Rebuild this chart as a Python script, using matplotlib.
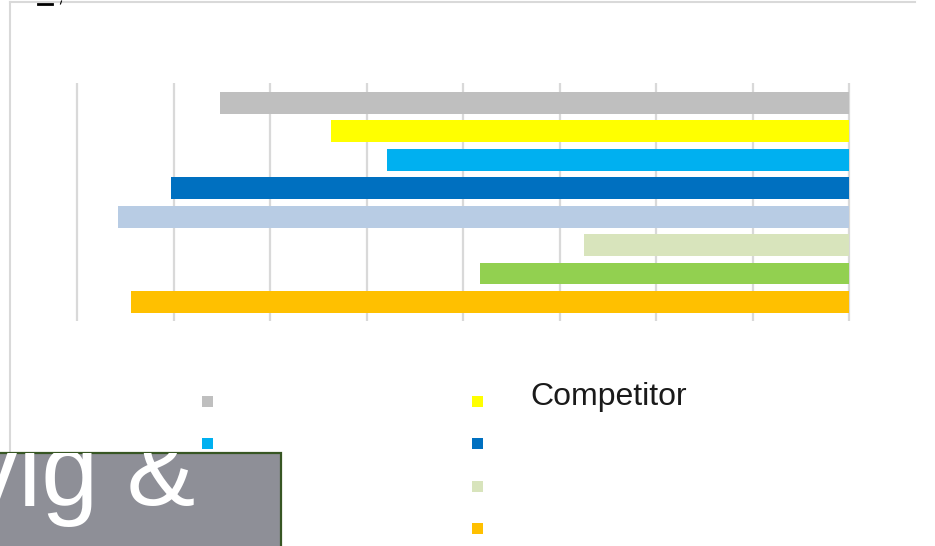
import matplotlib.pyplot as plt
from matplotlib.lines import Line2D
from matplotlib.patches import Rectangle

plt.rcParams['font.family'] = ['Liberation Sans', 'DejaVu Sans']

# bar lengths, measured leftwards from the right-hand zero line
values = [6.52, 5.37, 4.79, 7.03, 7.58, 2.75, 3.82, 7.44]
colors = ['#bfbfbf', '#ffff00', '#00b0f0', '#0070c0',
          '#b8cce4', '#d8e4bc', '#92d050', '#ffc000']
legend_labels = ['', 'Competitor', '', '', '', '', '', '']
grid_ticks = list(range(9))

W, H = 935, 546
fig = plt.figure(figsize=(W / 100, H / 100), dpi=100)

def px(x, y):
    return x / W, 1 - y / H

# light frame of the chart area
fig.add_artist(Line2D([10 / W, 915 / W], [1 - 1.5 / H] * 2, color='#d9d9d9', lw=1.5))
fig.add_artist(Line2D([10 / W, 10 / W], [1 - 1.5 / H, 0], color='#d9d9d9', lw=1.5))
# leftover title fragment at the top edge
fig.add_artist(Line2D([38 / W, 52 / W], [1 - 3.5 / H] * 2, color='black', lw=2))
fig.add_artist(Line2D([60.5 / W, 61.5 / W], [1 - 4 / H, 1 - 1 / H], color='black', lw=0.8))

ax = fig.add_axes([77 / W, 1 - 321 / H, 772 / W, 238 / H])
ax.set_xlim(8, 0)
ax.set_ylim(7.67, -0.70)
ax.vlines(grid_ticks, 0, 1, transform=ax.get_xaxis_transform(),
          color='#d9d9d9', lw=1.6, zorder=1, clip_on=False)
ax.barh(range(len(values)), values, height=0.77, color=colors, zorder=2)
ax.axis('off')

# legend squares, two columns
slots = [(207, 401.5), (477.5, 401.5), (207, 443), (477.5, 443.5),
         None, (477.5, 486), None, (477.5, 528)]
s = 11
for i, pos in enumerate(slots):
    if pos is None:
        continue
    x, y = pos
    fig.add_artist(Rectangle(px(x - s / 2, y + s / 2), s / W, s / H,
                             color=colors[i], lw=0))
    if legend_labels[i]:
        fig.text(*px(x + 53, y + 3.5), legend_labels[i], fontsize=23,
                 ha='left', va='baseline', color='#1a1a1a')

# overlapping title box at the bottom left
box = Rectangle((-0.01, -0.01), 281 / W + 0.01, (H - 453) / H + 0.01,
                facecolor='#8e8f97', edgecolor='#375623', lw=1.6, zorder=5)
fig.add_artist(box)
title = fig.text(*px(195, 505), 'vig &', fontsize=74, color='white',
                 ha='right', va='baseline', zorder=6)
title.set_clip_path(box)

fig.savefig('out.png', dpi=100)
